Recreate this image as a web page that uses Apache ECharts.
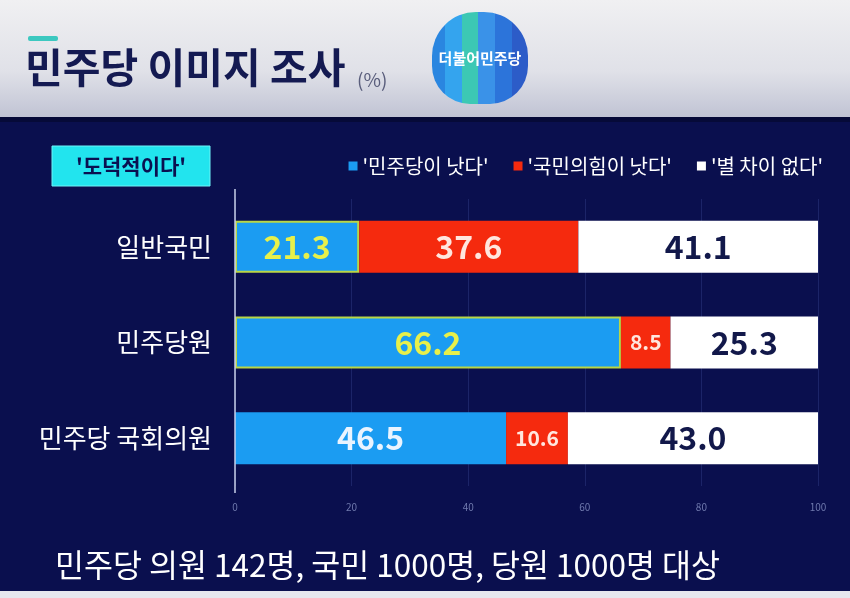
<!DOCTYPE html>
<html><head><meta charset="utf-8">
<script src="https://cdn.jsdelivr.net/npm/echarts@6/dist/echarts.min.js"></script>
<style>html,body{margin:0;padding:0;background:#0a0f4e}#c{width:850px;height:598px}</style>
</head><body><div id="c"></div>
<script>
const categories = ['일반국민', '민주당원', '민주당 국회의원'];
const seriesNames = ["'민주당이 낫다'", "'국민의힘이 낫다'", "'별 차이 없다'"];
const demVals = [21.3, 66.2, 46.5];
const ppVals = [37.6, 8.5, 10.6];
const noDiffVals = [41.1, 25.3, 43.0];
const xTicks = [0, 20, 40, 60, 80, 100];

const FONT = '"Noto Sans CJK KR", "Noto Sans", sans-serif';
const chart = echarts.init(document.getElementById('c'));

function labelSize(v){ return v < 15 ? 21 : 32; }

const demData = demVals.map((v, i) => ({
  value: v,
  itemStyle: i < 2 ? { borderColor: '#b9d646', borderWidth: 2 } : {},
  label: { color: i < 2 ? '#e8f04a' : '#eaf4ff', fontSize: labelSize(v) }
}));
const ppData = ppVals.map(v => ({ value: v, label: { color: '#ffe6de', fontSize: labelSize(v) } }));
const ndData = noDiffVals.map(v => ({ value: v, label: { color: '#12184a', fontSize: labelSize(v) } }));

const baseLabel = { show: true, position: 'inside', fontFamily: FONT, fontWeight: 'bold', formatter: p => p.value.toFixed(1) };

chart.setOption({
  backgroundColor: '#0a0f4e',
  animation: false,
  textStyle: { fontFamily: FONT },
  graphic: [
    { type: 'rect', shape: { x: 0, y: 0, width: 850, height: 119 }, z: -10,
      style: { fill: new echarts.graphic.LinearGradient(0, 0, 0, 1, [
        { offset: 0, color: '#f0f0f2' }, { offset: 0.6, color: '#e0e1e8' }, { offset: 1, color: '#bfc2d3' }]) } },
    { type: 'rect', shape: { x: 0, y: 117, width: 850, height: 5 }, z: -9, style: { fill: '#060a38' } },
    { type: 'rect', shape: { x: 0, y: 591, width: 850, height: 7 }, z: -9, style: { fill: '#e6e7ee' } },
    { type: 'line', shape: { x1: 235, y1: 189, x2: 235, y2: 493 }, z: 5, style: { stroke: '#c8d0ea', lineWidth: 1.5 } },
    { type: 'rect', shape: { x: 28, y: 36, width: 30, height: 5, r: 2 }, style: { fill: '#3cc8c0' } },
    { type: 'text', left: 25, top: 47, style: { text: '민주당 이미지 조사', fill: '#141a52', font: 'bold 41px ' + FONT } },
    { type: 'text', left: 357, top: 70, style: { text: '(%)', fill: '#5a5e7c', font: '19px ' + FONT } },
    { type: 'rect', shape: { x: 432, y: 12, width: 96, height: 92, r: [44, 44, 38, 38] },
      style: { fill: new echarts.graphic.LinearGradient(0, 0, 1, 0, [
        { offset: 0, color: '#2a86e0' }, { offset: 0.14, color: '#2a86e0' },
        { offset: 0.14, color: '#34a4ee' }, { offset: 0.31, color: '#34a4ee' },
        { offset: 0.31, color: '#3cc8b4' }, { offset: 0.48, color: '#3cc8b4' },
        { offset: 0.48, color: '#3a92e8' }, { offset: 0.66, color: '#3a92e8' },
        { offset: 0.66, color: '#2c74da' }, { offset: 0.83, color: '#2c74da' },
        { offset: 0.83, color: '#2c5cc8' }, { offset: 1, color: '#2c5cc8' }]) } },
    { type: 'text', x: 480, y: 58, style: { text: '더불어민주당', fill: '#ffffff', font: 'bold 15px ' + FONT, align: 'center', verticalAlign: 'middle' } },
    { type: 'rect', shape: { x: 52, y: 146, width: 158, height: 40 }, style: { fill: '#22e4ee', stroke: '#6ff4f8', lineWidth: 1 } },
    { type: 'text', x: 131, y: 166, style: { text: "'도덕적이다'", fill: '#0a1050', font: 'bold 21px ' + FONT, align: 'center', verticalAlign: 'middle' } },
    { type: 'text', left: 55, top: 549, style: { text: '민주당 의원 142명, 국민 1000명, 당원 1000명 대상', fill: '#ffffff', font: '31.5px ' + FONT } }
  ],
  legend: {
    right: 22, top: 151, itemWidth: 9, itemHeight: 9, itemGap: 25, icon: 'rect',
    textStyle: { color: '#ffffff', fontSize: 20, fontFamily: FONT },
    data: seriesNames
  },
  grid: { left: 235, right: 32, top: 199, bottom: 112 },
  xAxis: {
    type: 'value', min: 0, max: 100, interval: 20,
    axisLine: { show: false }, axisTick: { show: false },
    splitLine: { show: true, lineStyle: { color: '#1c2468', width: 1 } },
    axisLabel: { color: '#6f79ad', fontSize: 10, margin: 16,
      formatter: v => xTicks.includes(v) ? String(v) : '' }
  },
  yAxis: {
    type: 'category', data: categories, inverse: true,
    axisLine: { show: false },
    axisTick: { show: false },
    axisLabel: { color: '#ffffff', fontSize: 26, fontFamily: FONT, margin: 23 }
  },
  series: [
    { name: seriesNames[0], type: 'bar', stack: 'a', barWidth: 52, data: demData, itemStyle: { color: '#1b9cf2' }, label: baseLabel },
    { name: seriesNames[1], type: 'bar', stack: 'a', barWidth: 52, data: ppData, itemStyle: { color: '#f52a0e' }, label: baseLabel },
    { name: seriesNames[2], type: 'bar', stack: 'a', barWidth: 52, data: ndData, itemStyle: { color: '#ffffff' }, label: baseLabel }
  ]
});
</script></body></html>
